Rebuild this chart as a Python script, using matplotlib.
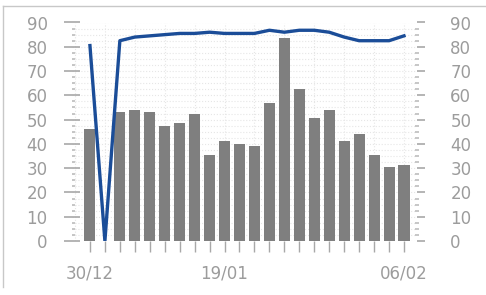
import matplotlib
matplotlib.use("Agg")
import matplotlib.pyplot as plt
from matplotlib.lines import Line2D
from matplotlib.ticker import MultipleLocator

# data
bar_values = [46, 0, 53, 54, 53, 47.5, 48.5, 52.5, 35.5, 41, 40, 39,
              57, 83.5, 62.5, 50.5, 54, 41, 44, 35.5, 30.5, 31.5]
line_values = [80.5, 0, 82.5, 84, 84.5, 85, 85.5, 85.5, 86, 85.5, 85.5, 85.5,
               86.8, 86, 86.8, 86.8, 86, 84, 82.5, 82.5, 82.5, 84.5]
x_labels = {0: "30/12", 9: "19/01", 21: "06/02"}
y_ticks = [0, 10, 20, 30, 40, 50, 60, 70, 80, 90]

bar_color = "#7f7f7f"
line_color = "#1b4d98"
text_color = "#9c9c9c"
tick_color = "#a8a8a8"
grid_color = "#e6e6e6"

fig = plt.figure(figsize=(4.86, 2.95), dpi=100)
ax = fig.add_axes([72 / 486, 1 - 241 / 295, (417 - 72) / 486, (241 - 22.5) / 295])

x = list(range(len(bar_values)))
ax.bar(x, bar_values, width=0.74, color=bar_color, zorder=2)
ax.plot(x, line_values, color=line_color, lw=2.4, zorder=3, solid_joinstyle="round")

ax.set_xlim(-1.2, 21.87)
ax.set_ylim(0, 90)

# faint dotted grid
for gx in range(-1, len(bar_values), 2):
    ax.axvline(gx, color=grid_color, lw=0.8, ls=":", zorder=0)
for i in range(37):
    ax.axhline(i * 2.5, color=grid_color, lw=0.8, ls=":", zorder=0)

for s in ax.spines.values():
    s.set_visible(False)

ax.set_xticks(x)
ax.set_xticklabels([x_labels.get(i, "") for i in x])
ax.tick_params(axis="x", direction="out", length=8, width=1, color=tick_color,
               pad=9, labelsize=12, labelcolor=text_color)

ax.set_yticks(y_ticks)
ax.yaxis.set_minor_locator(MultipleLocator(2.5))
ax.tick_params(axis="y", which="major", direction="inout", length=11, width=1.2,
               color=tick_color, pad=12, labelsize=12, labelcolor=text_color)
ax.tick_params(axis="y", which="minor", direction="in", length=2.5, width=1.2,
               color="#bdbdbd")

ax2 = ax.twinx()
ax2.set_ylim(0, 90)
ax2.set_yticks(y_ticks)
ax2.yaxis.set_minor_locator(MultipleLocator(2.5))
for s in ax2.spines.values():
    s.set_visible(False)
ax2.tick_params(axis="y", which="major", direction="out", length=6, width=1.2,
                color=tick_color, pad=18, labelsize=12, labelcolor=text_color)
ax2.tick_params(axis="y", which="minor", direction="inout", length=2.5, width=1.2,
                color="#bdbdbd")

# outer frame of the picture
fig.add_artist(Line2D([3 / 486, 3 / 486], [1 - 287 / 295, 1 - 6 / 295],
                      transform=fig.transFigure, color="#c8c8c8", lw=1))
fig.add_artist(Line2D([3 / 486, 1], [1 - 6 / 295, 1 - 6 / 295],
                      transform=fig.transFigure, color="#c8c8c8", lw=1))

fig.savefig("out.png", dpi=100)
